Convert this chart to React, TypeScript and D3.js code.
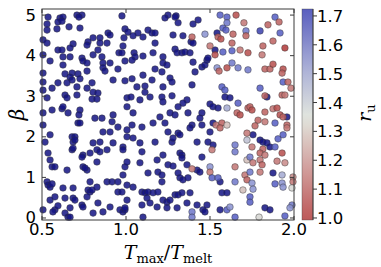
import React from "react";
import * as d3 from "d3";

const xTicks = [0.5, 1.0, 1.5, 2.0];
const yTicks = [0, 1, 2, 3, 4, 5];
const cbTicks = [1.0, 1.1, 1.2, 1.3, 1.4, 1.5, 1.6, 1.7];

// [T/Tmelt, beta] -- r_u above the colour bar top
const coldPoints = [
  [0.536,4.95],[0.607,4.93],[0.625,4.95],[0.595,4.83],[0.619,4.85],[0.708,5.0],[0.738,5.0],[0.72,4.95],[0.53,4.78],[0.53,4.63],
  [0.589,4.66],[0.661,4.71],[0.726,4.68],[0.976,4.98],[0.994,4.66],[1.012,4.58],[0.804,4.44],[0.845,4.44],[0.893,4.56],[0.905,4.51],
  [0.506,4.39],[0.53,4.31],[0.774,4.34],[0.768,4.26],[0.845,4.31],[0.833,4.14],[0.887,4.31],[0.685,4.29],[0.667,4.19],[0.595,4.14],
  [0.619,4.14],[0.958,4.07],[0.506,4.02],[0.625,3.97],[0.667,3.97],[0.738,3.94],[0.744,3.87],[0.804,4.02],[0.857,3.97],[0.863,3.82],
  [0.548,3.87],[0.768,3.82],[0.994,3.87],[0.905,3.82],[0.625,3.77],[0.863,3.70],[0.952,3.67],[0.768,3.62],[0.506,3.57],[0.637,3.55],
  [0.679,3.57],[0.667,3.47],[0.679,3.40],[0.714,3.55],[0.875,3.62],[0.506,3.35],[0.595,3.33],[0.649,3.33],[0.726,3.43],[0.798,3.33],
  [0.923,3.40],[0.994,3.38],[0.506,3.15],[0.56,3.20],[0.637,3.03],[0.649,2.96],[0.708,3.03],[0.768,3.20],[0.804,3.10],[0.833,3.08],
  [0.798,2.93],[0.827,2.93],[0.708,3.23],[1.006,2.96],[1.006,2.74],[0.53,2.96],[0.506,2.59],[0.56,2.66],[0.619,2.69],[0.625,2.74],
  [0.655,2.59],[0.726,2.66],[0.72,2.54],[0.815,2.46],[0.857,2.46],[0.923,2.54],
  [0.714,2.34],[0.726,2.34],[0.917,2.37],[0.952,2.24],[1.006,2.17],[0.506,2.29],[0.548,2.05],[0.679,2.0],[0.696,2.0],[0.685,1.87],
  [0.696,1.92],[0.518,1.87],[0.804,1.85],[0.845,1.87],[0.863,2.12],[0.905,2.12],[0.923,1.85],[0.679,1.68],[0.685,1.72],[0.744,1.55],
  [0.738,1.50],[0.786,1.60],[0.827,1.68],[0.845,1.63],[0.887,1.68],[0.982,1.75],[0.536,1.60],[0.548,1.43],[0.827,1.38],[0.56,1.26],
  [0.577,1.26],[0.649,1.18],[0.744,1.26],[0.768,1.18],[0.756,1.23],[0.994,1.26],[0.53,0.89],[0.536,0.81],[0.548,0.76],[0.56,0.84],
  [0.625,0.74],[0.685,0.74],[0.786,0.89],[0.774,0.69],[0.786,0.64],[0.798,0.69],[0.827,0.76],[0.887,0.89],[0.917,0.89],[0.952,0.89],
  [0.952,0.64],[0.548,0.44],[0.577,0.52],[0.637,0.49],[0.685,0.49],[0.696,0.44],[0.768,0.52],[0.738,0.32],[0.744,0.27],[0.833,0.37],
  [1.006,0.44],[0.506,0.20],[0.577,0.20],[0.565,0.15],[0.595,0.30],[0.667,0.25],[0.637,0.12],[0.655,0.02],[0.667,0.02],[0.804,0.12],
  [0.863,0.15],[0.905,0.27],[0.964,0.20],[0.982,0.15],[0.994,0.20],
  [1.298,4.98],[1.31,4.81],[1.25,5.0],[1.292,4.95],[1.232,4.93],[1.399,4.78],[1.429,4.88],[1.071,4.56],[1.101,4.46],[1.042,4.49],
  [0.988,4.44],[1.131,4.63],[1.155,4.56],[1.173,4.56],[1.28,4.51],[1.339,4.49],[1.387,4.34],[1.399,4.31],[1.542,4.56],[0.982,4.24],
  [0.976,4.07],[1.173,4.31],[1.292,4.16],[1.304,4.07],[1.333,4.07],[1.351,4.09],[1.381,4.07],[1.53,4.14],[1.048,4.07],[1.054,3.97],
  [1.036,3.89],[1.101,3.99],[1.161,4.07],[1.22,3.97],[1.22,3.82],[1.244,3.77],[1.173,3.67],[1.214,3.60],[1.399,3.84],[1.411,3.60],
  [1.452,3.72],[1.47,3.77],[1.482,3.89],[1.488,3.94],[1.036,3.43],[1.101,3.52],[1.155,3.40],[1.262,3.45],[1.274,3.35],[1.065,3.23],
  [1.113,3.25],[1.113,3.10],[1.22,3.23],[1.393,3.28],[1.143,2.98],[1.083,2.91],[1.03,2.98],[1.214,2.98],[1.22,2.86],[1.274,3.01],
  [1.363,2.91],[1.339,2.83],[1.589,2.98],[1.619,2.96],[1.5,2.81],[1.518,2.74],[1.548,2.71],[1.042,2.59],[1.202,2.49],[1.262,2.59],
  [1.31,2.74],[1.452,2.59],
  [1.292,2.54],[1.369,2.59],[1.44,2.46],[1.036,2.29],[1.095,2.24],[1.161,2.34],[1.232,2.34],[1.25,2.12],[1.31,2.09],[1.321,2.05],
  [1.393,2.29],[1.381,2.22],[1.452,2.29],[1.518,2.34],[1.5,2.12],[1.006,2.0],[1.042,1.97],[1.083,1.85],[1.173,1.87],[1.274,1.87],
  [1.28,1.97],[1.423,1.87],[1.488,1.87],[1.518,1.80],[0.982,1.68],[1.095,1.63],[1.22,1.55],[1.321,1.60],[1.333,1.55],[1.333,1.48],
  [1.452,1.50],[1.006,1.38],[1.083,1.36],[1.185,1.43],[1.25,1.31],[1.28,1.28],[1.363,1.31],[1.423,1.18],[1.44,1.13],[0.982,1.06],
  [1.131,1.11],[1.19,1.13],[1.214,1.06],[1.31,1.11],[1.321,0.99],[1.339,0.94],[1.369,0.99],[1.56,0.89],[1.006,0.81],[1.042,0.76],
  [1.214,0.89],[0.976,0.64],[1.095,0.64],[1.113,0.62],[1.131,0.64],[1.161,0.62],[1.19,0.64],[1.22,0.44],[1.244,0.39],[1.262,0.44],
  [1.292,0.57],[1.31,0.57],[1.333,0.62],[1.381,0.62],[1.571,0.62],[1.601,0.62],[1.125,0.49],[1.143,0.37],[0.994,0.25],[1.095,0.32],
  [1.185,0.27],[1.244,0.25],[1.304,0.25],[1.363,0.37],[1.423,0.32],[1.482,0.32],[1.458,0.20],[1.47,0.15],[1.56,0.20],[1.101,0.02],
  [1.839,2.98],[1.958,2.49],[1.756,2.05],[1.798,1.92],[1.815,1.87],[1.839,1.85],[1.857,1.75],[1.875,1.11],[1.827,0.25],[1.857,0.20],
];

// [T/Tmelt, beta, r_u]
const warmPoints = [
  [1.56,5.0,1.6],[1.601,4.95,1.6],[1.655,5.0,1.05],[1.601,4.81,1.55],[1.577,4.68,1.6],[1.702,4.81,1.15],[1.714,4.61,1.55],
  [1.393,4.46,1.1],[1.47,4.53,1.5],[1.548,4.46,1.1],[1.565,4.41,1.05],[1.595,4.63,1.6],[1.637,4.53,1.1],[1.714,4.49,1.1],
  [1.5,4.24,1.15],[1.631,4.31,1.1],[1.53,4.02,1.05],[1.577,4.09,1.6],[1.631,4.12,1.6],[1.679,4.14,1.15],[1.726,4.07,1.05],
  [1.542,3.70,1.5],[1.554,3.62,1.1],[1.601,3.70,1.05],[1.667,3.70,1.55],[1.726,3.65,1.55],[1.631,3.82,1.55],[1.571,3.23,1.6],
  [1.589,3.15,1.6],[1.667,2.83,1.6],[1.726,2.71,1.1],[1.601,2.71,1.45],[1.661,2.59,1.1],[1.679,2.54,1.05],
  [1.536,2.29,1.15],[1.571,2.34,1.1],[1.56,2.22,1.1],[1.601,2.29,1.3],[1.72,2.09,1.15],[1.512,1.68,1.15],[1.649,1.80,1.55],
  [1.649,1.63,1.55],[1.72,1.92,1.4],[1.393,1.21,1.15],[1.5,1.26,1.5],[1.5,1.13,1.15],[1.649,1.26,1.15],[1.72,1.43,1.3],
  [1.512,0.99,1.6],[1.548,0.99,1.6],[1.708,1.06,1.15],[1.72,0.94,1.1],[1.696,0.69,1.3],[1.649,0.89,1.55],[1.393,0.15,1.55],
  [1.601,0.20,1.6],[1.619,0.27,1.5],[1.649,0.02,1.6],[1.393,0.02,1.55],
  [1.887,4.95,1.6],[1.845,4.76,1.1],[1.911,4.83,1.1],[1.798,4.61,1.65],[1.917,4.56,1.6],[1.875,4.36,1.1],[1.815,4.24,1.1],
  [1.81,4.02,1.15],[1.946,4.19,1.0],[1.827,3.67,1.1],[1.857,3.67,1.1],[1.875,3.79,1.05],[1.935,3.67,1.05],[1.929,3.57,1.1],
  [1.935,3.35,1.6],[1.964,3.35,1.1],[1.982,3.20,1.15],[1.798,3.20,1.6],[1.827,3.01,1.1],[1.929,3.03,1.1],[1.946,3.03,1.15],
  [1.738,2.74,1.1],[1.75,2.66,1.05],[1.827,2.61,1.1],[1.875,2.69,1.15],[1.899,2.71,1.05],[1.917,2.54,1.05],[1.935,2.49,1.1],
  [1.786,2.41,1.1],[1.768,2.27,1.1],[1.827,2.37,1.15],[1.887,2.34,1.6],[1.958,2.29,1.1],[1.958,2.22,1.15],[1.887,1.75,1.6],
  [1.905,1.95,1.6],[1.935,2.05,1.6],[1.75,1.75,1.15],[1.815,1.70,1.1],[1.798,1.60,1.1],[1.827,1.55,1.15],[1.798,1.43,1.15],
  [1.929,1.60,1.05],[1.738,1.50,1.55],[1.899,1.40,1.15],[1.756,1.36,1.15],[1.81,1.31,1.1],[1.798,1.13,1.15],[1.946,1.36,1.2],
  [1.738,1.13,1.55],[1.929,1.06,1.45],[1.994,1.01,1.2],[1.994,0.89,1.15],[1.988,0.74,1.35],[1.887,0.84,1.6],[1.929,0.86,1.5],
  [1.935,0.76,1.5],[1.75,0.86,1.5],[1.756,0.71,1.5],[1.738,0.52,1.6],[1.738,0.39,1.6],[1.988,0.32,1.55],[1.976,0.25,1.5],
  [1.792,0.02,1.35],[1.946,0.05,1.6],
];

const COLD_RU = 1.75;

const App = () => {
  const width = 381;
  const height = 267;
  const left = 42, right = 294, top = 9, bottom = 220;
  const cbLeft = 302, cbRight = 313;

  const xScale = d3.scaleLinear().domain([0.5, 2.0]).range([left, right]);
  const yScale = d3.scaleLinear().domain([-0.05, 5.15]).range([bottom, top]);
  const cbScale = d3.scaleLinear().domain([0.993, 1.724]).range([bottom, top]);

  const pointColor = d3.scaleLinear<string>()
    .domain([1.0, 1.2, 1.35, 1.5, 1.62, 1.72])
    .range(["#b03838", "#c88a88", "#d6d6d2", "#8a92d0", "#4a52c0", "#131384"])
    .clamp(true);
  const cbColor = d3.scaleLinear<string>()
    .domain([1.0, 1.175, 1.35, 1.525, 1.72])
    .range(["#bd5a5a", "#d2a09e", "#e2e6de", "#a8add6", "#5a5fbf"])
    .clamp(true);

  const allPoints = coldPoints.map(d => [d[0], d[1], COLD_RU]).concat(warmPoints);
  const stops = d3.range(0, 1.0001, 0.05);
  const [c0, c1] = cbScale.domain();
  const tickFont = "DejaVu Sans, sans-serif";
  const frame = "#3a3a3a";

  return (
    <svg width={width} height={height} style={{ position: "absolute", left: 0, top: 0 }}>
      <defs>
        <linearGradient id="cb" x1="0" y1="1" x2="0" y2="0">
          {stops.map(s => (
            <stop key={s} offset={s} stopColor={cbColor(c0 + s * (c1 - c0))} />
          ))}
        </linearGradient>
      </defs>

      {/* points */}
      <g>
        {allPoints.map((d, i) => (
          <circle key={i} cx={xScale(d[0])} cy={yScale(d[1])} r={3.3}
            fill={pointColor(d[2])} fillOpacity={0.85}
            stroke="#333" strokeOpacity={0.55} strokeWidth={0.8} />
        ))}
      </g>

      {/* frame + ticks */}
      <rect x={left} y={top} width={right - left} height={bottom - top} fill="none" stroke={frame} strokeWidth={1} />
      {xTicks.map(t => (
        <g key={"x" + t}>
          <line x1={xScale(t)} x2={xScale(t)} y1={bottom} y2={bottom - 4} stroke={frame} />
          <line x1={xScale(t)} x2={xScale(t)} y1={top} y2={top + 4} stroke={frame} />
          <text x={xScale(t)} y={235} textAnchor="middle" fontFamily={tickFont} fontSize={16.5}>{t.toFixed(1)}</text>
        </g>
      ))}
      {yTicks.map(t => (
        <g key={"y" + t}>
          <line x1={left} x2={left + 4} y1={yScale(t)} y2={yScale(t)} stroke={frame} />
          <line x1={right} x2={right - 4} y1={yScale(t)} y2={yScale(t)} stroke={frame} />
          <text x={36} y={yScale(t) + 5.5} textAnchor="end" fontFamily={tickFont} fontSize={16.5}>{t}</text>
        </g>
      ))}

      {/* axis labels */}
      <text x={(left + right) / 2} y={259} textAnchor="middle" fontFamily="DejaVu Serif, serif" fontSize={19}>
        <tspan fontStyle="italic">T</tspan>
        <tspan fontSize={13} dy={4}>max</tspan>
        <tspan dy={-4}>/</tspan>
        <tspan fontStyle="italic">T</tspan>
        <tspan fontSize={13} dy={4}>melt</tspan>
      </text>
      <text transform={`translate(24, ${(top + bottom) / 2}) rotate(-90)`} textAnchor="middle"
        fontFamily="DejaVu Serif, serif" fontStyle="italic" fontSize={20}>β</text>

      {/* colour bar */}
      <rect x={cbLeft} y={top} width={cbRight - cbLeft} height={bottom - top} fill="url(#cb)" />
      <rect x={cbLeft} y={top} width={cbRight - cbLeft} height={bottom - top} fill="none" stroke={frame} strokeWidth={0.6} strokeOpacity={0.6} />
      <line x1={cbRight} x2={cbRight} y1={top} y2={bottom} stroke={frame} />
      {cbTicks.map(t => (
        <g key={"c" + t}>
          <line x1={cbRight} x2={cbRight + 4} y1={cbScale(t)} y2={cbScale(t)} stroke={frame} />
          <text x={317} y={cbScale(t) + 6} fontFamily={tickFont} fontSize={16.5}>{t.toFixed(1)}</text>
        </g>
      ))}
      <text transform={`translate(371, 113) rotate(-90)`} textAnchor="middle" fontFamily="DejaVu Serif, serif" fontSize={19}>
        <tspan fontStyle="italic">r</tspan>
        <tspan fontSize={13} dy={4}>u</tspan>
      </text>
    </svg>
  );
};

export default App;
